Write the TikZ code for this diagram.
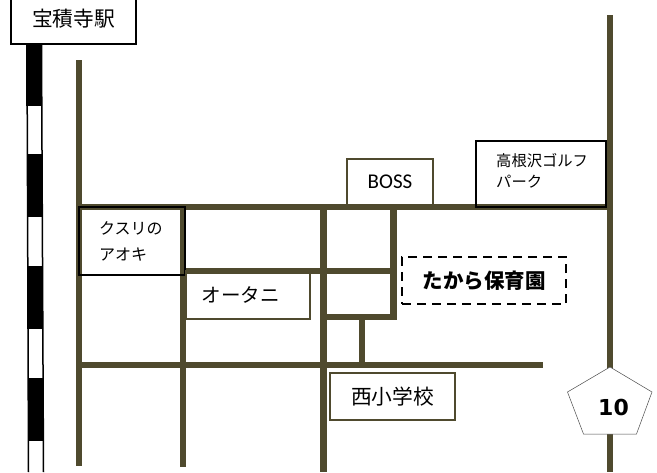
\documentclass[tikz,border=0pt]{standalone}
\usepackage{fontspec}
\setmainfont{Noto Sans CJK JP}
\newfontfamily\latinfont{Carlito}
\newfontfamily\routefont{DejaVu Sans}
\definecolor{roadcolor}{HTML}{4F4A2E}
\tikzset{
  road/.style={draw=roadcolor, line width=6pt},
  blackbox/.style={draw=black, line width=1.6pt, inner sep=0pt},
  olivebox/.style={draw=roadcolor, line width=1.2pt, inner sep=0pt},
  bigtext/.style={font=\fontsize{20.75}{24}\selectfont},
  smalltext/.style={font=\fontsize{15.3}{21}\selectfont, align=left}
}
\begin{document}
\begin{tikzpicture}[x=1pt, y=-1pt]
    \clip (0,0) rectangle (657,472);

    % 線路
    \draw[line width=1.5pt] (27,43) -- (28.5,472);
    \draw[line width=1.5pt] (41.5,43) -- (43.5,472);
    \foreach \x/\y in {26/43, 26.5/154, 27/266, 27.5/378}
      \fill (\x,\y) rectangle (\x+16,\y+63);

    % 道路(縦)
    \draw[road] (79,60) -- (79,466);
    \draw[road] (183,207) -- (183,467);
    \draw[road, line width=7pt] (323,207) -- (323,472);
    \draw[road, line width=7pt] (393,207) -- (393,320);
    \draw[road] (362,317) -- (362,365);
    \draw[road, line width=6.5pt] (610,15) -- (610,472);

    % 道路(横)
    \draw[road] (76,207) -- (610,207);
    \draw[road] (183,271) -- (393,271);
    \draw[road] (323,317) -- (396,317);
    \draw[road] (79,365) -- (543,365);

    % 駅
    \node[blackbox, fill=white, bigtext, minimum width=125pt, minimum height=50pt] (station) at (73.5,19) {宝積寺駅};

    % 店など
    \node[blackbox, minimum width=106pt, minimum height=68pt] (kusuri) at (132,241) {};
    \node[smalltext, font=\fontsize{16}{26}\selectfont, anchor=west, inner sep=0pt] (kusurilabel) at (99,241) {クスリの\\アオキ};
    \node[blackbox, minimum width=130pt, minimum height=66pt] (golf) at (541,174) {};
    \node[smalltext, anchor=west, inner sep=0pt] (golflabel) at (496,171) {高根沢ゴルフ\\パーク};
    \node[olivebox, minimum width=86pt, minimum height=46pt, font=\latinfont\fontsize{21}{25}\selectfont] (boss) at (390,182) {BOSS};
    \node[olivebox, minimum width=124pt, minimum height=48pt] (otani) at (248,295) {};
    \node[font=\fontsize{19.5}{24}\selectfont, inner sep=0pt] (otanilabel) at (240.5,295) {オータニ};
    \node[olivebox, bigtext, minimum width=125pt, minimum height=47pt] (school) at (392.5,396.5) {西小学校};

    % 保育園
    \node[draw, line width=2.4pt, dash pattern=on 9pt off 6pt, inner sep=0pt, minimum width=164pt, minimum height=47pt, font=\bfseries\fontsize{20.5}{24}\selectfont] (hoikuen) at (484,280.5) {たから保育園};

    % 国道
    \draw[fill=white, draw=black!70, line width=0.5pt] (610,367) -- (652,392) -- (636.5,434) -- (583.5,434) -- (567.5,392) -- cycle;
    \node[font=\routefont\fontsize{22}{26}\selectfont\bfseries] (route) at (613.5,407) {10};
\end{tikzpicture}
\end{document}
